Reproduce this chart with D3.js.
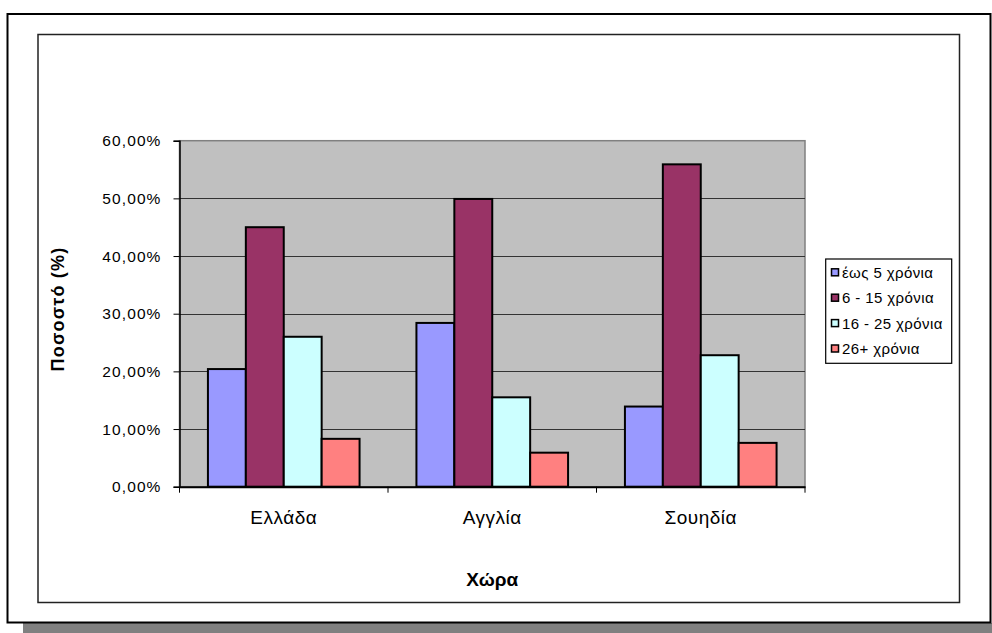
<!DOCTYPE html>
<html>
<head>
<meta charset="utf-8">
<script src="https://cdn.jsdelivr.net/npm/d3@7"></script>
<style>
  html, body { margin: 0; padding: 0; background: #fff; }
  svg { display: block; font-family: Arial, "Liberation Sans", sans-serif; }
</style>
</head>
<body>
<svg id="chart" width="992" height="633"></svg>
<script>
// Countries on the category axis
const countries = ["Ελλάδα", "Αγγλία", "Σουηδία"];
// Age-group series (share of respondents per country)
const seriesNames = ["έως 5 χρόνια", "6 - 15 χρόνια", "16 - 25 χρόνια", "26+ χρόνια"];
const seriesColors = ["#9999FF", "#993366", "#CCFFFF", "#FF8080"];
const valsUpTo5 = [0.204, 0.284, 0.139];
const vals6to15 = [0.450, 0.499, 0.559];
const vals16to25 = [0.260, 0.155, 0.228];
const vals26plus = [0.083, 0.059, 0.076];
const seriesValues = [valsUpTo5, vals6to15, vals16to25, vals26plus];
const yTicks = [0, 0.1, 0.2, 0.3, 0.4, 0.5, 0.6];
const yTitle = "Ποσοστό (%)";
const xTitle = "Χώρα";

const svg = d3.select("#chart");

// Outer frame with drop shadow
svg.append("rect").attr("x", 23).attr("y", 623).attr("width", 969).attr("height", 10).attr("fill", "#808080");
svg.append("rect").attr("x", 7.5).attr("y", 14).attr("width", 983).attr("height", 608.5)
  .attr("fill", "#fff").attr("stroke", "#000").attr("stroke-width", 2);
// Inner chart frame
svg.append("rect").attr("x", 38).attr("y", 34.5).attr("width", 921.5).attr("height", 568)
  .attr("fill", "#fff").attr("stroke", "#222").attr("stroke-width", 1.5);

const plot = { left: 179.5, right: 805, top: 140.7, bottom: 486.7 };

const x = d3.scaleBand().domain(countries).range([plot.left, plot.right]).padding(0);
const xs = d3.scaleBand().domain(d3.range(seriesNames.length)).range([0, x.bandwidth()])
  .paddingInner(0).paddingOuter(0.75);
const y = d3.scaleLinear().domain([0, 0.6]).range([plot.bottom, plot.top]);

// Plot area background
svg.append("rect").attr("x", plot.left).attr("y", plot.top)
  .attr("width", plot.right - plot.left).attr("height", plot.bottom - plot.top)
  .attr("fill", "#C0C0C0").attr("stroke", "#808080").attr("stroke-width", 1.5);

// Horizontal gridlines
svg.append("g").selectAll("line").data(yTicks.filter(t => t > 0 && t < 0.6)).join("line")
  .attr("x1", plot.left).attr("x2", plot.right)
  .attr("y1", d => Math.round(y(d)) + 0.5).attr("y2", d => Math.round(y(d)) + 0.5)
  .attr("stroke", "#333").attr("stroke-width", 1.2);

// Bars
const groups = svg.append("g").selectAll("g").data(countries).join("g")
  .attr("transform", d => `translate(${x(d)},0)`);
groups.selectAll("rect").data((c, ci) => seriesValues.map((vals, si) => ({ si, v: vals[ci] }))).join("rect")
  .attr("x", d => xs(d.si))
  .attr("width", xs.bandwidth())
  .attr("y", d => y(d.v))
  .attr("height", d => y(0) - y(d.v))
  .attr("fill", d => seriesColors[d.si])
  .attr("stroke", "#000").attr("stroke-width", 2);

// Y axis
const yAxis = d3.axisLeft(y).tickValues(yTicks).tickSize(6).tickPadding(12)
  .tickFormat(d => (d * 100).toFixed(2).replace(".", ",") + "%");
const gy = svg.append("g").attr("transform", `translate(${plot.left},0)`).call(yAxis);
gy.select(".domain").attr("stroke", "#000").attr("stroke-width", 1.5);
gy.selectAll(".tick line").attr("stroke", "#000");
gy.selectAll(".tick text").attr("font-size", 15.5).attr("fill", "#000")
  .attr("font-family", "Arial, 'Liberation Sans', sans-serif").style("letter-spacing", "1.1px");

// X axis
const xAxis = d3.axisBottom(x).tickSize(0).tickPadding(0).tickFormat("");
const gx = svg.append("g").attr("transform", `translate(0,${plot.bottom})`).call(xAxis);
gx.select(".domain").attr("stroke", "#000").attr("stroke-width", 2);
gx.selectAll(".tick").remove();
// Category boundary ticks
gx.selectAll("line.sep").data(d3.range(countries.length + 1)).join("line").attr("class", "sep")
  .attr("x1", i => plot.left + i * x.step()).attr("x2", i => plot.left + i * x.step())
  .attr("y1", 0).attr("y2", 6).attr("stroke", "#000").attr("stroke-width", 1);
// Category labels
svg.append("g").selectAll("text").data(countries).join("text")
  .attr("x", d => x(d) + x.bandwidth() / 2).attr("y", 524)
  .attr("text-anchor", "middle").attr("font-size", 19).attr("fill", "#000")
  .style("letter-spacing", "0.5px")
  .text(d => d);

// Axis titles
svg.append("text").attr("x", (plot.left + plot.right) / 2).attr("y", 586)
  .attr("text-anchor", "middle").attr("font-size", 19).attr("font-weight", "bold")
  .text(xTitle);
svg.append("text").attr("transform", "translate(63.5,309) rotate(-90)")
  .attr("text-anchor", "middle").attr("font-size", 18).attr("font-weight", "bold")
  .style("letter-spacing", "1.2px")
  .text(yTitle);

// Legend
const lg = svg.append("g");
lg.append("rect").attr("x", 825.7).attr("y", 259).attr("width", 126).attr("height", 104.3)
  .attr("fill", "#fff").attr("stroke", "#000").attr("stroke-width", 1.2);
const items = lg.selectAll("g.item").data(seriesNames).join("g").attr("class", "item")
  .attr("transform", (d, i) => `translate(0,${272.3 + i * 25.4})`);
items.append("rect").attr("x", 831.5).attr("y", -3.5).attr("width", 7).attr("height", 7)
  .attr("fill", (d, i) => seriesColors[i]).attr("stroke", "#000").attr("stroke-width", 1.5);
items.append("text").attr("x", 842).attr("y", 0).attr("dy", "0.36em")
  .attr("font-size", 15).attr("fill", "#000")
  .style("letter-spacing", "0.4px")
  .text(d => d);
</script>
</body>
</html>
